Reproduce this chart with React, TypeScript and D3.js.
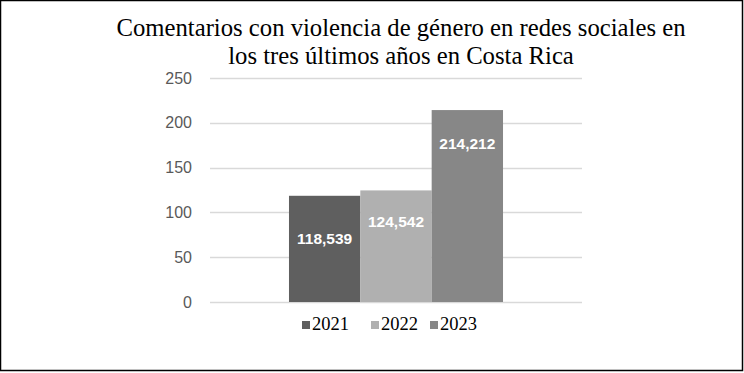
import React, { useEffect, useRef } from 'react';
import * as d3 from 'd3';

const years = ['2021', '2022', '2023'];
const values = [118.539, 124.542, 214.212];
const valueLabels = ['118,539', '124,542', '214,212'];
const yTicks = [0, 50, 100, 150, 200, 250];
const titleLines = [
  'Comentarios con violencia de género en redes sociales en',
  'los tres últimos años en Costa Rica',
];

const colors = ['#5f5f5f', '#b0b0b0', '#878787'];

const serif = "'Liberation Serif', 'Times New Roman', Times, serif";
const sans = "'Liberation Sans', Arial, Helvetica, sans-serif";

const App: React.FC = () => {
  const svgRef = useRef<SVGSVGElement>(null);

  useEffect(() => {
    if (!svgRef.current) return;
    const width = 744;
    const height = 373;
    const margin = { top: 78, right: 162, bottom: 71, left: 210 };

    d3.select(svgRef.current).selectAll('*').remove();

    const svg = d3.select(svgRef.current)
      .attr('width', width)
      .attr('height', height)
      .attr('viewBox', `0 0 ${width} ${height}`);

    svg.append('rect')
      .attr('x', 0.5).attr('y', 0.5)
      .attr('width', width - 2).attr('height', height - 3)
      .attr('fill', '#fff')
      .attr('stroke', '#000')
      .attr('stroke-width', 1.5);

    // Title
    svg.append('g')
      .selectAll('text')
      .data(titleLines)
      .enter()
      .append('text')
      .attr('x', 401)
      .attr('y', (_, i) => 36 + i * 28)
      .attr('text-anchor', 'middle')
      .attr('font-family', serif)
      .attr('font-size', 24.7)
      .attr('fill', '#000')
      .text(d => d);

    const innerW = width - margin.left - margin.right;
    const innerH = height - margin.top - margin.bottom;

    const g = svg.append('g')
      .attr('transform', `translate(${margin.left},${margin.top})`);

    const y = d3.scaleLinear().domain([0, 250]).range([innerH, 0]);

    // group of bars centered, using outer band
    const outer = d3.scaleBand().domain(['all']).range([0, innerW]).paddingInner(0).paddingOuter(0.369);
    const x = d3.scaleBand()
      .domain(years)
      .range([outer('all') as number, (outer('all') as number) + outer.bandwidth()])
      .padding(0);

    // Grid
    g.selectAll('line.grid')
      .data(yTicks)
      .enter()
      .append('line')
      .attr('class', 'grid')
      .attr('x1', 0).attr('x2', innerW)
      .attr('y1', d => Math.round(y(d)) + 0.5)
      .attr('y2', d => Math.round(y(d)) + 0.5)
      .attr('stroke', '#d9d9d9')
      .attr('stroke-width', 1.5);

    // Y tick labels
    g.selectAll('text.tick')
      .data(yTicks)
      .enter()
      .append('text')
      .attr('x', -18)
      .attr('y', d => y(d))
      .attr('dy', '0.35em')
      .attr('text-anchor', 'end')
      .attr('font-family', sans)
      .attr('font-size', 16)
      .attr('fill', '#595959')
      .text(d => d);

    // Bars
    g.selectAll('rect.bar')
      .data(values)
      .enter()
      .append('rect')
      .attr('x', (_, i) => x(years[i]) as number)
      .attr('y', d => y(d))
      .attr('width', x.bandwidth())
      .attr('height', d => innerH - y(d))
      .attr('fill', (_, i) => colors[i]);

    // Value labels
    const labelDy = [43, 31, 34];
    g.selectAll('text.val')
      .data(values)
      .enter()
      .append('text')
      .attr('x', (_, i) => (x(years[i]) as number) + x.bandwidth() / 2)
      .attr('y', (d, i) => y(d) + labelDy[i])
      .attr('dy', '0.35em')
      .attr('text-anchor', 'middle')
      .attr('font-family', sans)
      .attr('font-size', 15.5)
      .attr('font-weight', 'bold')
      .attr('fill', '#fff')
      .text((_, i) => valueLabels[i]);

    // Legend
    const legendX = [302, 371, 430];
    const legend = svg.append('g');
    years.forEach((yr, i) => {
      legend.append('rect')
        .attr('x', legendX[i]).attr('y', 321)
        .attr('width', 8).attr('height', 8)
        .attr('fill', colors[i]);
      legend.append('text')
        .attr('x', legendX[i] + 10).attr('y', 330)
        .attr('font-family', serif)
        .attr('font-size', 18.5)
        .attr('fill', '#000')
        .text(yr);
    });
  }, []);

  return <svg ref={svgRef} style={{ position: 'absolute', left: 0, top: 0, display: 'block' }} />;
};

export default App;
